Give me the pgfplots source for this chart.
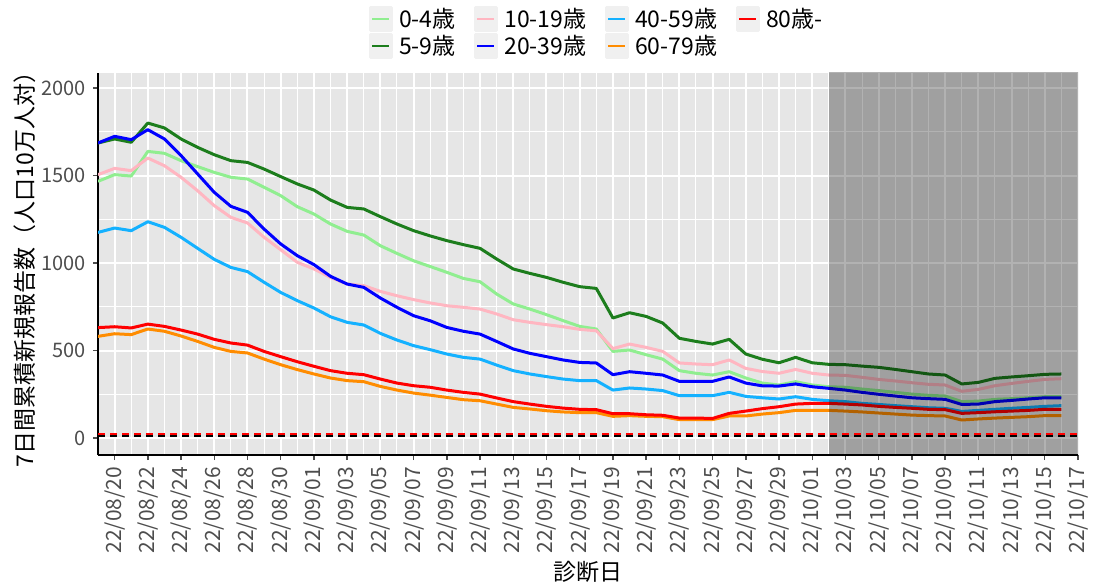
\documentclass[border=0pt]{standalone}
\usepackage{fontspec}
\setmainfont{Noto Sans CJK JP}
\usepackage{pgfplots}
\usepackage{pgfplotstable}
\pgfplotsset{compat=1.18}

\definecolor{c04}{HTML}{90EE90}
\definecolor{c59}{HTML}{1C7D1C}
\definecolor{c1019}{HTML}{FFB6C1}
\definecolor{c2039}{HTML}{0000FF}
\definecolor{c4059}{HTML}{14B1FF}
\definecolor{c6079}{HTML}{FF8C00}
\definecolor{c80}{HTML}{FF0000}
\definecolor{panelbg}{HTML}{E6E6E6}
\definecolor{txtgray}{HTML}{4D4D4D}

% day index: 0 = 22/08/19
\pgfplotstableread{
d  a04  a59  a1019 a2039 a4059 a6079 a80
0  1467 1686 1505  1686  1175  581   631
1  1505 1709 1541  1724  1200  596   636
2  1497 1690 1528  1705  1185  591   629
3  1638 1800 1600  1762  1236  623   651
4  1627 1772 1556  1709  1204  610   638
5  1585 1709 1490  1614  1147  583   617
6  1551 1661 1413  1509  1084  552   594
7  1518 1619 1328  1404  1021  518   564
8  1490 1585 1261  1324  975   495   543
9  1480 1575 1229  1290  951   486   531
10 1433 1537 1147  1194  890   451   495
11 1385 1494 1076  1109  832   419   465
12 1322 1452 1004  1042  785   391   436
13 1280 1417 966   991   743   366   410
14 1223 1360 918   924   693   343   385
15 1181 1318 880   880   661   328   370
16 1160 1309 871   861   646   322   362
17 1099 1265 838   800   598   295   337
18 1055 1223 813   747   560   274   314
19 1013 1185 791   699   528   257   299
20 980  1155 772   670   505   245   290
21 947  1128 756   632   480   232   274
22 912  1105 747   610   461   219   261
23 893  1084 737   594   451   213   251
24 823  1023 709   552   417   194   229
25 766  966  676   509   385   175   208
26 737  941  661   484   366   166   194
27 705  918  648   465   351   156   181
28 671  890  636   446   337   149   171
29 638  865  621   432   328   145   164
30 623  855  613   429   328   145   162
31 495  686  511   362   274   124   139
32 503  716  537   379   286   128   139
33 476  695  518   370   280   124   133
34 451  657  495   360   271   122   130
35 385  570  429   324   242   105   114
36 370  552  423   324   242   105   114
37 360  537  419   324   242   105   112
38 379  564  446   349   261   126   141
39 343  480  398   314   238   126   154
40 314  450  380   298   230   137   168
41 303  430  370   297   223   145   179
42 322  461  392   309   236   158   194
43 303  430  370   293   221   158   198
44 293  421  360   284   213   158   198
45 290  419  358   274   208   154   194
46 280  411  347   261   198   149   189
47 271  404  335   250   192   143   181
48 261  392  326   240   185   137   175
49 251  379  316   230   179   131   170
50 244  366  307   225   173   128   164
51 240  360  303   221   170   126   162
52 208  309  267   192   152   103   141
53 211  318  278   194   158   109   145
54 221  341  299   208   164   114   150
55 225  349  312   215   170   118   154
56 230  356  324   223   175   122   158
57 236  364  335   230   181   128   164
58 236  366  339   230   185   128   164
}\agedata

\begin{document}
\begin{tikzpicture}
\useasboundingbox (0,0) rectangle (550.5pt,292pt);
\begin{axis}[
  at={(49pt,64.5pt)}, anchor=south west,
  scale only axis, width=490pt, height=191pt,
  xmin=0, xmax=59, ymin=-97, ymax=2086,
  axis background/.style={fill=panelbg},
  axis lines*=left,
  axis line style={-, black, line width=0.7pt},
  tick align=outside,
  major tick length=2.5pt, minor tick length=0pt,
  tick style={txtgray, line width=0.7pt},
  xtick={1,3,...,59},
  xticklabels={22/08/20,22/08/22,22/08/24,22/08/26,22/08/28,22/08/30,
    22/09/01,22/09/03,22/09/05,22/09/07,22/09/09,22/09/11,22/09/13,22/09/15,
    22/09/17,22/09/19,22/09/21,22/09/23,22/09/25,22/09/27,22/09/29,
    22/10/01,22/10/03,22/10/05,22/10/07,22/10/09,22/10/11,22/10/13,22/10/15,22/10/17},
  minor xtick={0,2,...,58},
  ytick={0,500,1000,1500,2000},
  minor ytick={250,750,1250,1750},
  grid=both,
  major grid style={white, line width=1pt},
  minor grid style={white, line width=0.5pt},
  /pgf/number format/assume math mode=true,
  /pgf/number format/1000 sep={},
  xticklabel style={rotate=90, anchor=east, font=\fontsize{10.5pt}{12pt}\selectfont, text=txtgray},
  yticklabel style={font=\fontsize{10pt}{12pt}\selectfont, text=txtgray},
  xlabel={診断日},
  ylabel={7日間累積新規報告数（人口10万人対）},
  xlabel style={at={(axis description cs:0.5,0)}, anchor=center, yshift=-58.5pt, font=\fontsize{11.5pt}{13pt}\selectfont},
  ylabel style={at={(axis description cs:-0.0745,0.5)}, anchor=center, rotate=0, font=\fontsize{11.5pt}{13pt}\selectfont},
  legend columns=4,
  legend style={at={(axis description cs:0.509,1.178)}, anchor=north,
    draw=none, fill=none, inner sep=0pt, row sep=0pt,
    font=\fontsize{11.5pt}{13pt}\selectfont,
    nodes={inner sep=1.2pt},
    /tikz/every odd column/.append style={column sep=2pt},
    /tikz/every even column/.append style={column sep=8pt}},
  legend cell align=left,
  legend image code/.code={
    \fill[black!6] (0pt,-5.75pt) rectangle (10.5pt,5.75pt);
    \draw[line width=1.3pt] (1pt,0pt) -- (9.5pt,0pt);},
  every axis plot/.append style={line width=1.5pt, line join=round},
]
\addplot[c04, forget plot] table[x=d, y=a04] {\agedata};
\addplot[c59, forget plot] table[x=d, y=a59] {\agedata};
\addplot[c1019, forget plot] table[x=d, y=a1019] {\agedata};
\addplot[c2039, forget plot] table[x=d, y=a2039] {\agedata};
\addplot[c4059, forget plot] table[x=d, y=a4059] {\agedata};
\addplot[c6079, forget plot] table[x=d, y=a6079] {\agedata};
\addplot[c80, forget plot] table[x=d, y=a80] {\agedata};
\fill[black, opacity=0.3] (axis cs:44,-200) rectangle (axis cs:60,2200);
\addplot[black, line width=0.8pt, dash pattern=on 3.5pt off 2.5pt, forget plot] coordinates {(0,10) (59,10)};
\addplot[red, line width=0.8pt, dash pattern=on 3.5pt off 2.5pt, forget plot] coordinates {(0,24) (59,24)};
\addlegendimage{c04}\addlegendentry{0-4歳}
\addlegendimage{c1019}\addlegendentry{10-19歳}
\addlegendimage{c4059}\addlegendentry{40-59歳}
\addlegendimage{c80}\addlegendentry{80歳-}
\addlegendimage{c59}\addlegendentry{5-9歳}
\addlegendimage{c2039}\addlegendentry{20-39歳}
\addlegendimage{c6079}\addlegendentry{60-79歳}
\end{axis}
\end{tikzpicture}
\end{document}
